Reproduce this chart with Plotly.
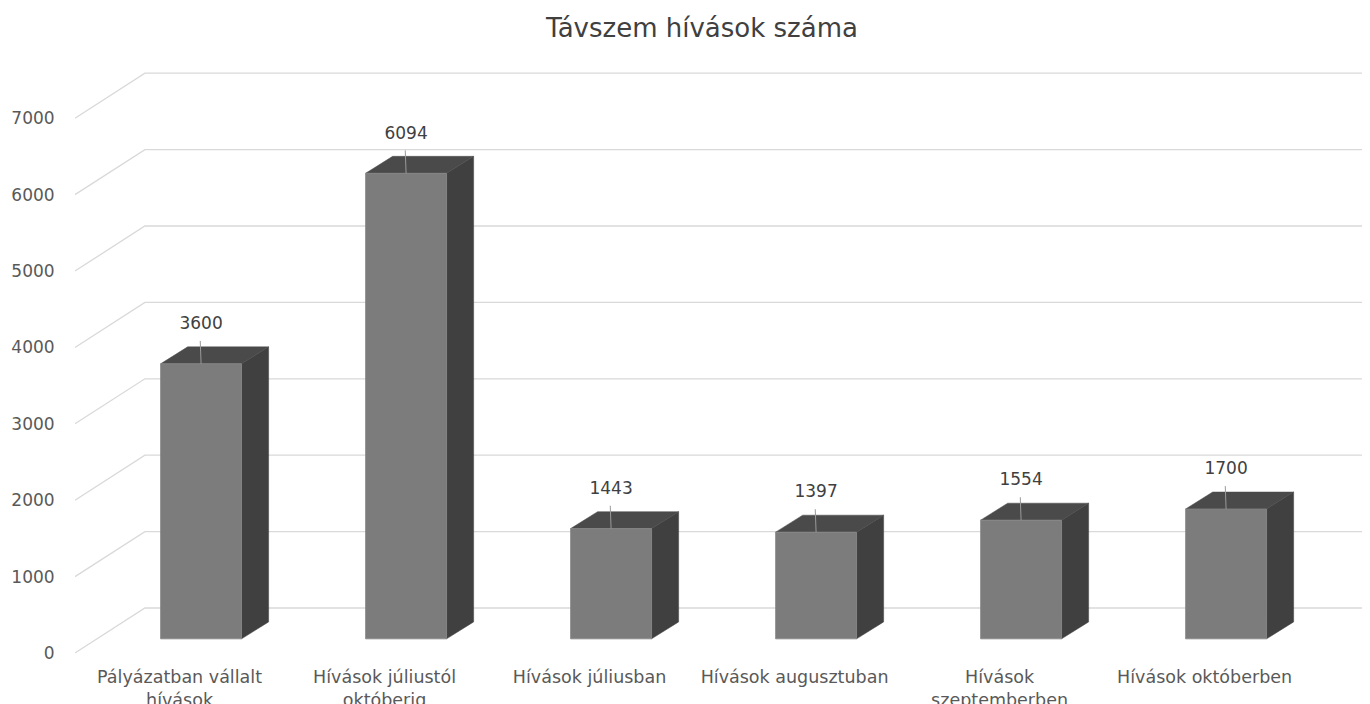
import plotly.graph_objects as go

# ---- data ----
categories = ["Pályázatban vállalt<br>hívások", "Hívások júliustól<br>októberig",
              "Hívások júliusban", "Hívások augusztuban",
              "Hívások<br>szeptemberben", "Hívások októberben"]
values = [3600, 6094, 1443, 1397, 1554, 1700]
y_ticks = [0, 1000, 2000, 3000, 4000, 5000, 6000, 7000]
title_text = "Távszem hívások száma"

# ---- pseudo-3D geometry (in axis units) ----
X_LEFT, X_RIGHT = -0.51, 5.807
WALL_DX, WALL_DY = 0.341, 589        # back wall offset
BAR_SHIFT, BAR_HALF = 0.105, 0.1975  # front face centre / half width
BAR_BASE = 185                        # front face bottom
DEPTH_DX, DEPTH_DY = 0.132, 222       # bar depth
LABEL_DY, LEADER_DY = 510, 300

FRONT = "#7c7c7c"
SIDE = "#404040"
TOP = "#4a4a4a"
GRID = "#d9d9d9"
TXT = "#595959"
FONT = "DejaVu Sans"

fig = go.Figure()

# back-wall gridlines + diagonal side lines
for v in y_ticks:
    fig.add_trace(go.Scatter(
        x=[X_LEFT, X_LEFT + WALL_DX, X_RIGHT + 1],
        y=[v, v + WALL_DY, v + WALL_DY],
        mode="lines", line=dict(color=GRID, width=1.3),
        hoverinfo="skip", showlegend=False))

for i, v in enumerate(values):
    xc = i + BAR_SHIFT
    x0, x1 = xc - BAR_HALF, xc + BAR_HALF
    b, t = BAR_BASE, BAR_BASE + v
    # side face
    fig.add_trace(go.Scatter(
        x=[x1, x1, x1 + DEPTH_DX, x1 + DEPTH_DX, x1],
        y=[b, t, t + DEPTH_DY, b + DEPTH_DY, b],
        fill="toself", fillcolor=SIDE, mode="lines",
        line=dict(color=SIDE, width=0.5), hoverinfo="skip", showlegend=False))
    # top face
    fig.add_trace(go.Scatter(
        x=[x0, x1, x1 + DEPTH_DX, x0 + DEPTH_DX, x0],
        y=[t, t, t + DEPTH_DY, t + DEPTH_DY, t],
        fill="toself", fillcolor=TOP, mode="lines",
        line=dict(color=TOP, width=0.5), hoverinfo="skip", showlegend=False))
    # front face
    fig.add_trace(go.Scatter(
        x=[x0, x1, x1, x0, x0],
        y=[b, b, t, t, b],
        fill="toself", fillcolor=FRONT, mode="lines",
        line=dict(color="#858585", width=0.8), hoverinfo="skip", showlegend=False))
    # leader line
    fig.add_trace(go.Scatter(
        x=[xc, xc - 0.004], y=[t, t + LEADER_DY],
        mode="lines", line=dict(color="#9a9a9a", width=1),
        hoverinfo="skip", showlegend=False))
    # data label
    fig.add_trace(go.Scatter(
        x=[xc], y=[t + LABEL_DY], mode="text", text=[str(v)],
        textposition="middle center",
        textfont=dict(family=FONT, size=17, color="#404040"),
        hoverinfo="skip", showlegend=False))

K = 0.0764  # px per unit
W, H = 1362, 696  # page body has an 8px margin
fig.update_layout(
    width=W, height=H,
    margin=dict(l=67, r=0, t=52, b=44, autoexpand=False),
    paper_bgcolor="white", plot_bgcolor="white",
    title=dict(text=title_text, x=694 / W, xanchor="center",
               y=1 - 20 / H, yanchor="middle", yref="container",
               font=dict(family=FONT, size=26, color="#404040")),
    xaxis=dict(range=[X_LEFT, X_RIGHT], tickvals=list(range(len(categories))),
               ticktext=categories, showgrid=False, zeroline=False, showline=False,
               ticks="outside", ticklen=1, tickcolor="rgba(0,0,0,0)",
               tickfont=dict(family=FONT, size=17.5, color=TXT),
               automargin=False, fixedrange=True),
    yaxis=dict(range=[(653 - 660) / K, (653 - 60) / K], tickvals=y_ticks,
               showgrid=False, zeroline=False, showline=False,
               ticks="outside", ticklen=16, tickcolor="rgba(0,0,0,0)",
               tickfont=dict(family=FONT, size=17, color=TXT),
               automargin=False, fixedrange=True),
)

fig.write_html("out.html")
